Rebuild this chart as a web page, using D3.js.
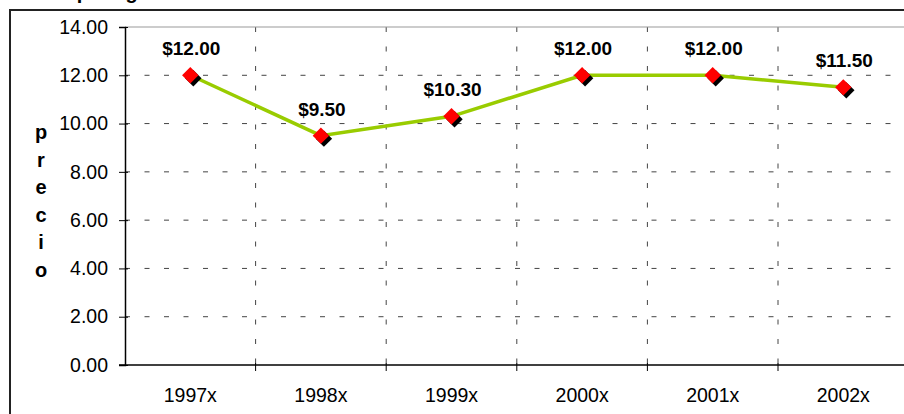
<!DOCTYPE html>
<html>
<head>
<meta charset="utf-8">
<script src="https://cdn.jsdelivr.net/npm/d3@7"></script>
<style>
  html, body { margin: 0; padding: 0; background: #fff; }
  svg { display: block; font-family: "Liberation Sans", Arial, sans-serif; }
</style>
</head>
<body>
<div id="chart"></div>
<script>
// datos
const CATEGORIES = ["1997x", "1998x", "1999x", "2000x", "2001x", "2002x"];
const PRICES     = [12.00, 9.50, 10.30, 12.00, 12.00, 11.50];
const Y_TICKS    = [0, 2, 4, 6, 8, 10, 12, 14];
const TITLE      = "Precio por kg";
const Y_LABEL    = "precio";

const W = 904, H = 414;
const plot = { left: 125, right: 908.6, top: 27, bottom: 365 };

const svg = d3.select("#chart").append("svg")
  .attr("width", W).attr("height", H)
  .style("overflow", "hidden");

// marco exterior (recortado a la derecha y abajo)
svg.append("rect")
  .attr("x", 10).attr("y", 10).attr("width", W + 20).attr("height", H + 20)
  .attr("fill", "#fff").attr("stroke", "#222").attr("stroke-width", 2);

// título (casi fuera de la imagen, como en el original)
svg.append("text")
  .attr("x", 10).attr("y", -1)
  .attr("font-size", 20).attr("font-weight", "bold")
  .text(TITLE);

const x = d3.scaleBand().domain(CATEGORIES).range([plot.left, plot.right]).padding(0);
const y = d3.scaleLinear().domain([0, 14]).range([plot.bottom, plot.top]);
const cx = d => x(d) + x.bandwidth() / 2;

// rejilla horizontal
svg.append("g").selectAll("line")
  .data(Y_TICKS.filter(t => t > 0 && t < 14))
  .join("line")
  .attr("x1", plot.left).attr("x2", plot.right)
  .attr("y1", d => y(d)).attr("y2", d => y(d))
  .attr("stroke", "#444").attr("stroke-width", 1)
  .attr("stroke-dasharray", "5,14.5");

// rejilla vertical (entre categorías)
svg.append("g").selectAll("line")
  .data(CATEGORIES.slice(1))
  .join("line")
  .attr("x1", d => x(d)).attr("x2", d => x(d))
  .attr("y1", plot.top).attr("y2", plot.bottom)
  .attr("stroke", "#444").attr("stroke-width", 1)
  .attr("stroke-dasharray", "5,14.5");

// borde superior del área
svg.append("line")
  .attr("x1", plot.left).attr("x2", plot.right)
  .attr("y1", plot.top).attr("y2", plot.top)
  .attr("stroke", "#999").attr("stroke-width", 1);

// eje Y
const yAxis = svg.append("g").attr("transform", `translate(${plot.left},0)`)
  .call(d3.axisLeft(y).tickValues(Y_TICKS).tickFormat(d3.format(".2f")).tickSize(6).tickPadding(11))
  .call(g => g.select(".domain").attr("stroke", "#000").attr("stroke-width", 1.5));
yAxis.selectAll(".tick line").attr("x2", -6).attr("x1", 3).attr("stroke", "#000");
yAxis.selectAll("text").attr("font-size", 19.5).attr("fill", "#000")
  .attr("font-family", "'Liberation Sans', Arial, sans-serif");

// eje X
const xAxis = svg.append("g").attr("transform", `translate(0,${plot.bottom})`)
  .call(d3.axisBottom(x).tickSize(0).tickPadding(23))
  .call(g => g.select(".domain").remove());
xAxis.selectAll("text").attr("font-size", 19.5).attr("fill", "#000")
  .attr("font-family", "'Liberation Sans', Arial, sans-serif");
svg.append("line")
  .attr("x1", plot.left - 6).attr("x2", plot.right)
  .attr("y1", plot.bottom).attr("y2", plot.bottom)
  .attr("stroke", "#000").attr("stroke-width", 1.5);
svg.append("g").selectAll("line")
  .data(CATEGORIES.slice(1))
  .join("line")
  .attr("x1", d => x(d)).attr("x2", d => x(d))
  .attr("y1", plot.bottom - 2).attr("y2", plot.bottom + 6)
  .attr("stroke", "#000");

// título eje Y, letras apiladas
const yl = svg.append("text")
  .attr("x", 41).attr("text-anchor", "middle")
  .attr("font-size", 20).attr("font-weight", "bold");
const letters = Y_LABEL.split("");
const step = 27.6;
const y0 = (plot.top + plot.bottom) / 2 + 12 - step * (letters.length - 1) / 2;
yl.selectAll("tspan").data(letters).join("tspan")
  .attr("x", 41).attr("y", (d, i) => y0 + i * step)
  .text(d => d);

// línea
const pts = CATEGORIES.map((c, i) => ({ c, v: PRICES[i] }));
svg.append("path").datum(pts)
  .attr("fill", "none").attr("stroke", "#99CC00").attr("stroke-width", 3.5)
  .attr("d", d3.line().x(d => cx(d.c)).y(d => y(d.v)));

// marcadores con sombra
const sym = d3.symbol().type(d3.symbolSquare).size(135);
svg.append("g").selectAll("path").data(pts).join("path")
  .attr("d", sym)
  .attr("transform", d => `translate(${cx(d.c) + 3},${y(d.v) + 3}) rotate(45)`)
  .attr("fill", "#000");
svg.append("g").selectAll("path").data(pts).join("path")
  .attr("d", sym)
  .attr("transform", d => `translate(${cx(d.c)},${y(d.v)}) rotate(45)`)
  .attr("fill", "#FF0000");

// etiquetas de datos
svg.append("g").selectAll("text").data(pts).join("text")
  .attr("x", d => cx(d.c) + 1)
  .attr("y", d => y(d.v) - 20)
  .attr("text-anchor", "middle")
  .attr("font-size", 19).attr("font-weight", "bold")
  .text(d => "$" + d3.format(".2f")(d.v));
</script>
</body>
</html>
